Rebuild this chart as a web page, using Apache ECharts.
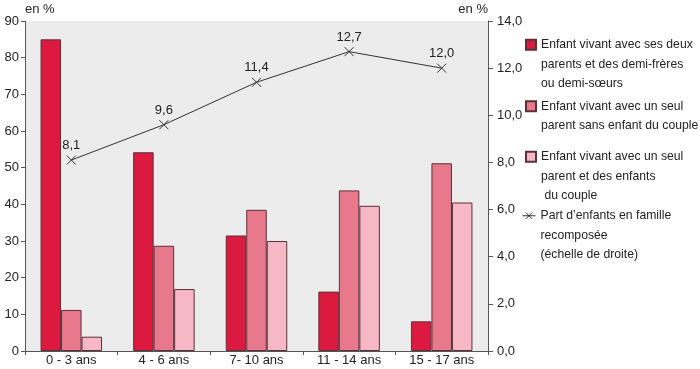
<!DOCTYPE html>
<html>
<head>
<meta charset="utf-8">
<script src="https://cdn.jsdelivr.net/npm/echarts@6/dist/echarts.min.js"></script>
<style>
html,body{margin:0;padding:0;background:#fff;}
#chart{width:700px;height:369px;}
</style>
</head>
<body>
<div id="chart"></div>
<script>
const categories = ["0 - 3 ans", "4 - 6 ans", "7- 10 ans", "11 - 14 ans", "15 - 17 ans"];
const deuxParents = [85.0, 54.2, 31.5, 16.2, 8.1];
const seulSansEnfant = [11.2, 28.7, 38.5, 43.8, 51.2];
const seulAvecEnfants = [3.9, 16.9, 30.0, 39.6, 40.5];
const partRecomposee = [8.1, 9.6, 11.4, 12.7, 12.0];
const seriesNames = [
  "Enfant vivant avec ses deux\nparents et des demi-frères\nou demi-sœurs",
  "Enfant vivant avec un seul\nparent sans enfant du couple",
  "Enfant vivant avec un seul\nparent et des enfants\n du couple",
  "Part d’enfants en famille\nrecomposée\n(échelle de droite)"
];

const FONT = "'Liberation Sans', Arial, sans-serif";
const LH = 19.5;
const fmt1 = v => Number(v).toFixed(1).replace('.', ',');
const border = '#5a3038';

function legendFor(i, left, top, w, h, icon, extra) {
  return Object.assign({
    show: true,
    left: left, top: top, padding: 0,
    orient: 'vertical',
    itemWidth: w, itemHeight: h,
    selectedMode: false,
    icon: icon,
    data: [seriesNames[i]],
    formatter: name => '\n'.repeat(name.split('\n').length - 1) + name,
    textStyle: {fontFamily: FONT, fontSize: 12.2, color: '#222', lineHeight: LH}
  }, extra || {});
}

const chart = echarts.init(document.getElementById('chart'), null, {renderer: 'canvas'});
chart.setOption({
  animation: false,
  backgroundColor: '#fff',
  textStyle: {fontFamily: FONT},
  grid: {left: 25, right: 212, top: 21, bottom: 18, show: true, backgroundColor: '#ececec', borderWidth: 0},
  legend: [
    legendFor(0, 525, -4, 10, 10, 'rect'),
    legendFor(1, 525, 77, 10, 10, 'rect'),
    legendFor(2, 525, 108, 10, 10, 'rect'),
    legendFor(3, 522, 167, 13, 8, undefined, {itemStyle: {borderWidth: 1}, lineStyle: {width: 1}})
  ],
  xAxis: {
    type: 'category',
    data: categories,
    boundaryGap: true,
    axisLine: {lineStyle: {color: '#555', width: 1}},
    axisTick: {show: true, length: 4, lineStyle: {color: '#555'}},
    axisLabel: {fontFamily: FONT, fontSize: 13, color: '#222', margin: 3}
  },
  yAxis: [
    {
      type: 'value', min: 0, max: 90, interval: 10, position: 'left',
      name: 'en %', nameLocation: 'end', nameGap: 5,
      nameTextStyle: {fontFamily: FONT, fontSize: 13, color: '#222', align: 'left', verticalAlign: 'bottom'},
      axisLine: {show: true, lineStyle: {color: '#555'}},
      axisTick: {show: true, length: 4, lineStyle: {color: '#555'}},
      splitLine: {show: false},
      axisLabel: {fontFamily: FONT, fontSize: 13, color: '#222', margin: 6}
    },
    {
      type: 'value', min: 0, max: 14, interval: 2, position: 'right',
      name: 'en %', nameLocation: 'end', nameGap: 5,
      nameTextStyle: {fontFamily: FONT, fontSize: 13, color: '#222', align: 'right', verticalAlign: 'bottom'},
      axisLine: {show: true, lineStyle: {color: '#555'}},
      axisTick: {show: true, length: 5, lineStyle: {color: '#555'}},
      splitLine: {show: false},
      axisLabel: {fontFamily: FONT, fontSize: 13, color: '#222', margin: 9, formatter: fmt1}
    }
  ],
  series: [
    {
      name: seriesNames[0], type: 'bar', data: deuxParents, yAxisIndex: 0,
      barWidth: 20.5, barGap: '0%',
      itemStyle: {color: '#dc1a40', borderColor: border, borderWidth: 1}
    },
    {
      name: seriesNames[1], type: 'bar', data: seulSansEnfant, yAxisIndex: 0,
      barWidth: 20.5, barGap: '0%',
      itemStyle: {color: '#e8788b', borderColor: border, borderWidth: 1}
    },
    {
      name: seriesNames[2], type: 'bar', data: seulAvecEnfants, yAxisIndex: 0,
      barWidth: 20.5, barGap: '0%',
      itemStyle: {color: '#f5b8c4', borderColor: border, borderWidth: 1}
    },
    {
      name: seriesNames[3], type: 'line', data: partRecomposee, yAxisIndex: 1,
      symbol: 'path://M0,0L10,10M10,0L0,10', symbolSize: 9,
      lineStyle: {color: '#333', width: 1},
      itemStyle: {color: '#333', borderColor: '#333', borderWidth: 1},
      label: {show: true, position: 'top', distance: 3, formatter: p => fmt1(p.value),
              fontFamily: FONT, fontSize: 13, color: '#222'},
      z: 5
    }
  ]
});
</script>
</body>
</html>
